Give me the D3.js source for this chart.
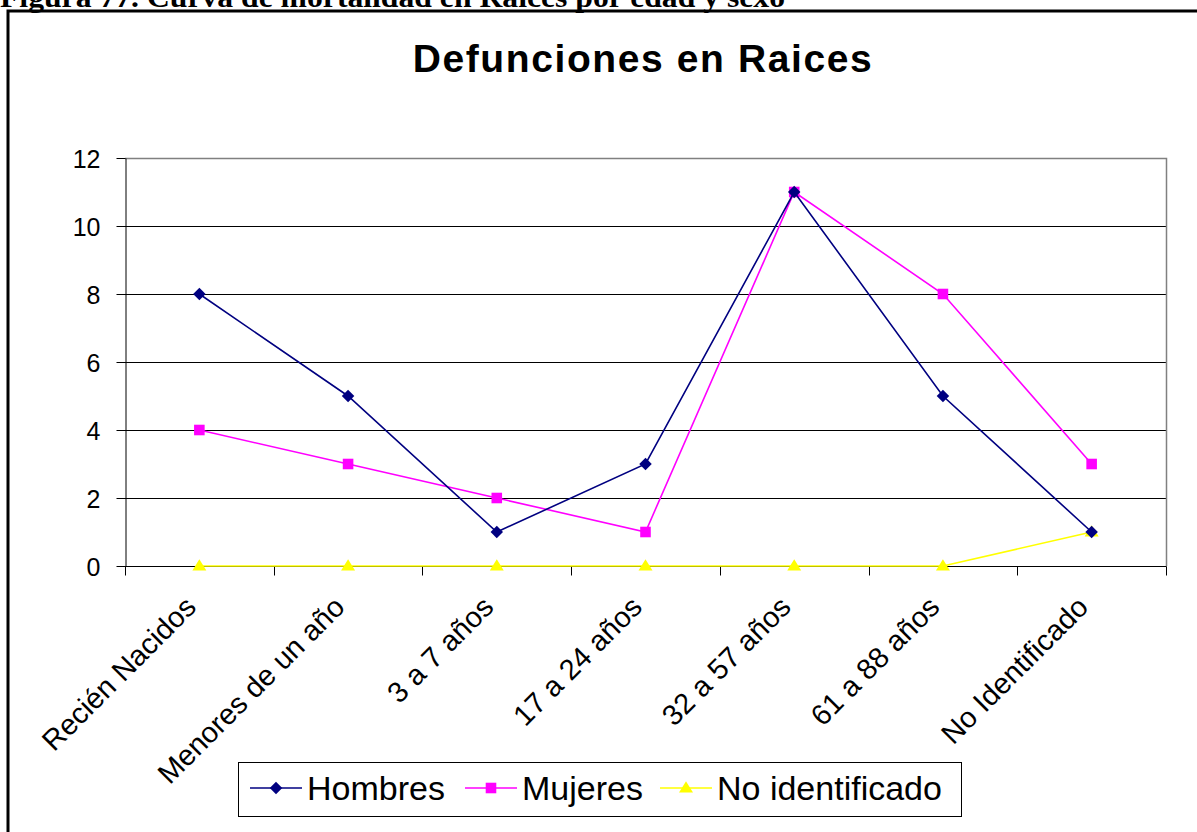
<!DOCTYPE html>
<html>
<head>
<meta charset="utf-8">
<script src="https://cdn.jsdelivr.net/npm/d3@7"></script>
<style>
  html, body { margin: 0; padding: 0; background: #fff; }
  svg { display: block; }
</style>
</head>
<body>
<svg id="chart" width="1197" height="832"></svg>
<script>
// Age groups on the x axis
const categories = ["Recién Nacidos", "Menores de un año", "3 a 7 años", "17 a 24 años",
                    "32 a 57 años", "61 a 88 años", "No Identificado"];
// Deaths per group, by sex
const hombres = [8, 5, 1, 3, 11, 5, 1];
const mujeres = [4, 3, 2, 1, 11, 8, 3];
const noIdentificado = [0, 0, 0, 0, 0, 0, 1];
const yTicks = [0, 2, 4, 6, 8, 10, 12];

// Diamond drawn as a square turned 45 degrees
const symbolRhomb = {
  draw(context, size) {
    const r = Math.sqrt(size / 2);
    context.moveTo(0, -r); context.lineTo(r, 0); context.lineTo(0, r); context.lineTo(-r, 0); context.closePath();
  }
};
// Triangle slightly wider than tall, centred on its point
const symbolTri = {
  draw(context, size) {
    const w = Math.sqrt(size * 1.6), h = w * 0.8;
    context.moveTo(0, -h * 0.6); context.lineTo(w / 2, h * 0.4); context.lineTo(-w / 2, h * 0.4); context.closePath();
  }
};

const seriesNames = ["Hombres", "Mujeres", "No identificado"];
const seriesColors = ["#000080", "#FF00FF", "#FFFF00"];
const seriesSymbols = [symbolRhomb, d3.symbolSquare, symbolTri];
const seriesSizes = [78, 112, 122];
const series = [hombres, mujeres, noIdentificado].map((values, i) => ({
  name: seriesNames[i], values, color: seriesColors[i],
  symbol: seriesSymbols[i], size: seriesSizes[i]
}));

const svg = d3.select("#chart");

// Caption above the frame (only its lower part shows)
svg.append("text")
  .attr("x", 0).attr("y", 7)
  .attr("font-family", "Liberation Serif, Times New Roman, serif")
  .attr("font-weight", "bold")
  .attr("font-size", 30)
  .attr("textLength", 785)
  .attr("lengthAdjust", "spacingAndGlyphs")
  .attr("fill", "#000")
  .text("Figura 77. Curva de mortalidad en Raices por edad y sexo");

// Outer frame
svg.append("rect")
  .attr("x", 8).attr("y", 11)
  .attr("width", 1220).attr("height", 860)
  .attr("fill", "none").attr("stroke", "#000").attr("stroke-width", 3);

// Title
svg.append("text")
  .attr("x", 643).attr("y", 72)
  .attr("text-anchor", "middle")
  .attr("font-family", "Liberation Sans, Arial, sans-serif")
  .attr("font-weight", "bold")
  .attr("font-size", 39)
  .attr("letter-spacing", 1.6)
  .text("Defunciones en Raices");

const plotLeft = 125, plotRight = 1166, plotTop = 158, plotBottom = 566;

const x = d3.scaleBand().domain(categories).range([plotLeft, plotRight]).padding(0);
const y = d3.scaleLinear().domain([0, 12]).range([plotBottom, plotTop]);

// Horizontal gridlines
svg.append("g")
  .selectAll("line")
  .data(yTicks.filter(t => t > 0 && t < 12))
  .join("line")
  .attr("x1", plotLeft).attr("x2", plotRight)
  .attr("y1", d => Math.round(y(d)) + 0.5).attr("y2", d => Math.round(y(d)) + 0.5)
  .attr("stroke", "#000").attr("stroke-width", 1);

// Plot-area border (top and right)
svg.append("path")
  .attr("d", `M${plotLeft},${plotTop + 0.5}H${plotRight + 0.5}V${plotBottom}`)
  .attr("fill", "none").attr("stroke", "#808080").attr("stroke-width", 1.5);

// Y axis
const yAxis = svg.append("g")
  .attr("transform", `translate(${plotLeft + 0.5},0)`)
  .call(d3.axisLeft(y).tickValues(yTicks).tickSize(9).tickPadding(16).tickSizeOuter(0));
yAxis.select(".domain").attr("stroke", "#000");
yAxis.selectAll(".tick line").attr("stroke", "#000");
yAxis.selectAll(".tick text")
  .attr("font-family", "Liberation Sans, Arial, sans-serif")
  .attr("font-size", 25).attr("fill", "#000").attr("dy", "0.36em");

// X axis: ticks on category boundaries
const xAxisG = svg.append("g").attr("transform", `translate(0,${plotBottom + 0.5})`);
xAxisG.append("line")
  .attr("x1", plotLeft).attr("x2", plotRight + 0.5)
  .attr("stroke", "#000");
const boundaries = categories.map(c => x(c)).concat([x(categories[categories.length - 1]) + x.bandwidth()]);
xAxisG.selectAll("line.tick")
  .data(boundaries)
  .join("line")
  .attr("class", "tick")
  .attr("x1", d => Math.round(d) + 0.5).attr("x2", d => Math.round(d) + 0.5)
  .attr("y1", 0).attr("y2", 9)
  .attr("stroke", "#000");

// Rotated category labels
xAxisG.selectAll("text")
  .data(categories)
  .join("text")
  .attr("transform", d => `translate(${x(d) + x.bandwidth() / 2 - 16},${28}) rotate(-45)`)
  .attr("text-anchor", "end")
  .attr("dy", "0.7em")
  .attr("font-family", "Liberation Sans, Arial, sans-serif")
  .attr("font-size", 29)
  .attr("fill", "#000")
  .text(d => d);

// Lines and markers
const cx = (d, i) => x(categories[i]) + x.bandwidth() / 2;
const line = d3.line().x(cx).y(d => y(d));

// draw in reverse so Hombres sits on top of Mujeres where they meet
series.slice().reverse().forEach(s => {
  const g = svg.append("g");
  g.append("path")
    .datum(s.values)
    .attr("d", line)
    .attr("fill", "none")
    .attr("stroke", s.color)
    .attr("stroke-width", 1.6);
  g.selectAll("path.marker")
    .data(s.values)
    .join("path")
    .attr("class", "marker")
    .attr("transform", (d, i) => `translate(${cx(d, i)},${y(d)})`)
    .attr("d", d3.symbol().type(s.symbol).size(s.size))
    .attr("fill", s.color);
});

// Legend
const legend = svg.append("g");
legend.append("rect")
  .attr("x", 238.5).attr("y", 762.5)
  .attr("width", 723).attr("height", 54)
  .attr("fill", "#fff").attr("stroke", "#000").attr("stroke-width", 1);
const legendX = [250, 465, 660];
series.forEach((s, i) => {
  const lx = legendX[i], ly = 788;
  legend.append("line")
    .attr("x1", lx).attr("x2", lx + 52)
    .attr("y1", ly).attr("y2", ly)
    .attr("stroke", s.color).attr("stroke-width", 1.6);
  legend.append("path")
    .attr("transform", `translate(${lx + 26},${ly})`)
    .attr("d", d3.symbol().type(s.symbol).size(s.size))
    .attr("fill", s.color);
  legend.append("text")
    .attr("x", lx + 57).attr("y", ly)
    .attr("dy", "0.36em")
    .attr("font-family", "Liberation Sans, Arial, sans-serif")
    .attr("font-size", 34)
    .attr("fill", "#000")
    .text(s.name);
});
</script>
</body>
</html>
